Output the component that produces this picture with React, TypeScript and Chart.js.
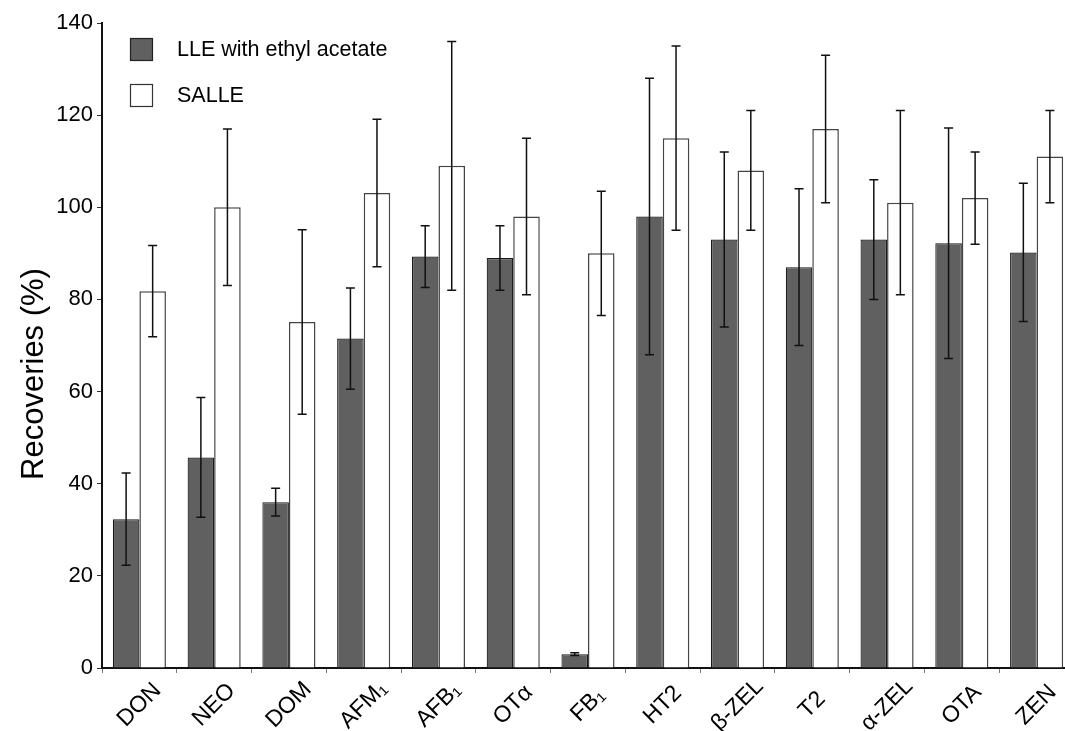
import React, { useEffect, useRef } from "react";
import { Chart, registerables } from "chart.js";

Chart.register(...registerables);

const categories = ["DON", "NEO", "DOM", "AFM₁", "AFB₁", "OTα", "FB₁", "HT2", "β-ZEL", "T2", "α-ZEL", "OTA", "ZEN"];
const lleValues = [32.3, 45.7, 36, 71.5, 89.3, 89, 3, 98, 93, 87, 93, 92.2, 90.2];
const lleErrors = [10, 13, 3, 11, 6.7, 7, 0.3, 30, 19, 17, 13, 25, 15];
const salleValues = [81.8, 100, 75.1, 103.1, 109, 98, 90, 115, 108, 117, 101, 102, 111];
const salleErrors = [9.9, 17, 20, 16, 27, 17, 13.5, 20, 13, 16, 20, 10, 10];
const seriesLabels = ["LLE with ethyl acetate", "SALLE"];
const yTitle = "Recoveries (%)";
const yMin = 0;
const yMax = 140;
const yStep = 20;

const FONT = "'Liberation Sans', Arial, Helvetica, sans-serif";

const errorBarPlugin = {
  id: "errorBars",
  afterDatasetsDraw(chart: any) {
    const ctx = chart.ctx;
    const yScale = chart.scales.y;
    const errs = [lleErrors, salleErrors];
    chart.data.datasets.forEach((ds: any, di: number) => {
      const meta = chart.getDatasetMeta(di);
      meta.data.forEach((bar: any, i: number) => {
        const v = ds.data[i];
        const e = errs[di][i];
        const x = bar.x;
        const yTop = yScale.getPixelForValue(v + e);
        const yBot = yScale.getPixelForValue(v - e);
        ctx.save();
        ctx.strokeStyle = "#111";
        ctx.lineWidth = 1.5;
        ctx.beginPath();
        ctx.moveTo(x, yTop);
        ctx.lineTo(x, yBot);
        ctx.moveTo(x - 4.5, yTop);
        ctx.lineTo(x + 4.5, yTop);
        ctx.moveTo(x - 4.5, yBot);
        ctx.lineTo(x + 4.5, yBot);
        ctx.stroke();
        ctx.restore();
      });
    });
  },
};

const decorPlugin = {
  id: "decor",
  afterDraw(chart: any) {
    const ctx = chart.ctx;
    ctx.save();
    // legend
    const items = [
      { fill: "#606060", stroke: "#222", y: 38 },
      { fill: "#ffffff", stroke: "#333", y: 84 },
    ];
    items.forEach((it, i) => {
      ctx.fillStyle = it.fill;
      ctx.fillRect(130, it.y, 23, 23);
      ctx.strokeStyle = it.stroke;
      ctx.lineWidth = 1.2;
      ctx.strokeRect(130.5, it.y + 0.5, 22, 22);
      ctx.fillStyle = "#000";
      ctx.font = `21.5px ${FONT}`;
      ctx.textAlign = "left";
      ctx.textBaseline = "middle";
      ctx.fillText(seriesLabels[i], 177, it.y + 12);
    });
    ctx.restore();

    // rotated category labels, centred under each category
    const xScale = chart.scales.x;
    const labelY = chart.chartArea.bottom + 37;
    ctx.save();
    ctx.font = `23px ${FONT}`;
    ctx.fillStyle = "#000";
    ctx.textAlign = "center";
    ctx.textBaseline = "middle";
    categories.forEach((lab, i) => {
      const x = xScale.getPixelForValue(i);
      ctx.save();
      ctx.translate(x, labelY);
      ctx.rotate(-Math.PI / 4);
      ctx.fillText(lab, 0, 0);
      ctx.restore();
    });
    ctx.restore();

    // y title
    ctx.save();
    ctx.translate(34, 374);
    ctx.rotate(-Math.PI / 2);
    ctx.font = `31px ${FONT}`;
    ctx.textAlign = "center";
    ctx.textBaseline = "middle";
    ctx.fillStyle = "#000";
    ctx.fillText(yTitle, 0, 0);
    ctx.restore();
  },
};

export default function App() {
  const canvasRef = useRef<HTMLCanvasElement | null>(null);

  useEffect(() => {
    document.body.style.margin = "0";
    document.body.style.overflow = "hidden";
    const canvas = canvasRef.current;
    if (!canvas) return;
    const chart = new Chart(canvas, {
      type: "bar",
      data: {
        labels: categories,
        datasets: [
          {
            label: seriesLabels[0],
            data: lleValues,
            backgroundColor: "#606060",
            borderColor: "#1a1a1a",
            borderWidth: 1.2,
          },
          {
            label: seriesLabels[1],
            data: salleValues,
            backgroundColor: "#ffffff",
            borderColor: "#444",
            borderWidth: 1.5,
          },
        ],
      },
      options: {
        responsive: false,
        animation: false,
        devicePixelRatio: 1,
        layout: { padding: { top: 23, right: 6, left: 0, bottom: 0 } },
        datasets: {
          bar: { categoryPercentage: 0.71, barPercentage: 1 },
        },
        plugins: {
          legend: { display: false },
          tooltip: { enabled: false },
          title: { display: false },
        },
        scales: {
          x: {
            offset: true,
            grid: {
              display: true,
              offset: true,
              drawOnChartArea: false,
              drawTicks: true,
              tickLength: 5,
              color: "#777",
            },
            border: { display: true, color: "#111", width: 2 },
            ticks: {
              display: false,
              autoSkip: false,
            },
            afterFit(scale: any) {
              scale.height = 63;
            },
          },
          y: {
            min: yMin,
            max: yMax,
            grid: {
              display: true,
              drawOnChartArea: false,
              drawTicks: true,
              tickLength: 5,
              color: "#333",
            },
            border: { display: true, color: "#111", width: 2 },
            ticks: {
              stepSize: yStep,
              color: "#000",
              padding: 4,
              font: { family: FONT, size: 22 },
            },
            afterFit(scale: any) {
              scale.width = 102;
            },
          },
        },
      },
      plugins: [errorBarPlugin, decorPlugin],
    });
    return () => chart.destroy();
  }, []);

  return (
    <div style={{ width: 1065, height: 731, overflow: "hidden", position: "relative", background: "#fff" }}>
      <canvas ref={canvasRef} width={1080} height={731} style={{ display: "block" }} />
    </div>
  );
}
